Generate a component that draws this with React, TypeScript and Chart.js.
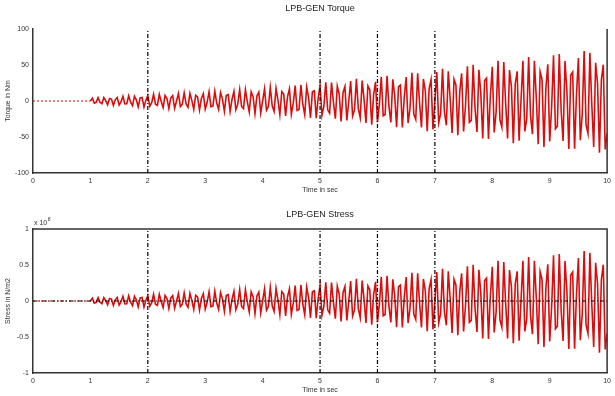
import React, { useEffect, useRef } from 'react';
import { Chart, registerables } from 'chart.js';

Chart.register(...registerables);

// ---- data ----
const xTickValues = [0, 1, 2, 3, 4, 5, 6, 7, 8, 9, 10];
const eventTimes = [2, 5, 6, 7];
const preOnsetTimes = [0, 1];
const preOnsetValues = [0, 0];
const onsetTime = 1;
const sampleRate = 30; // samples per second after onset

// Torque trace (Nm), sampled from t = 1 s to 10 s
const torqueValues = [0,
  3.9, -3.0, -1.8, 4.7, -1.7, -3.7, 4.6, 0.4, -5.2, 3.6, 2.7, -6.0, 1.7, 5.0, -5.6, -0.9, 6.6, -4.1, -3.8, 7.2, -1.6, -6.4, 6.5, 1.7, -8.0, 4.4, 5.0, -8.4, 1.2, 7.8,
  -7.2, -2.6, 9.4, -4.5, -6.2, 9.3, -0.7, -9.1, 7.6, 3.5, -10.5, 4.3, 7.5, -10.1, 0, 10.3, -7.8, -4.6, 11.5, -4.0, -8.8, 10.7, 0.8, -11.6, 7.9, 5.8, -12.5, 3.5, 10.1, -11.3,
  -1.8, 12.9, -7.9, -7.2, 13.6, -2.9, -11.7, 11.9, 3.0, -14.4, 7.9, 8.8, -14.7, 2.1, 13.4, -12.3, -4.4, 15.9, -7.6, -10.5, 15.7, -1.2, -15.1, 12.6, 5.9, -17.3, 7.1, 12.3, -16.5, 0,
  16.9, -12.8, -7.6, 18.9, -6.6, -14.4, 17.6, 1.4, -19.1, 13.1, 9.6, -20.7, 5.8, 16.8, -18.6, -3.0, 21.3, -13.1, -11.9, 22.3, -4.8, -19.2, 19.4, 4.9, -23.5, 12.8, 14.3, -23.8, 3.4, 21.7,
  -19.9, -7.1, 25.8, -12.3, -17.0, 25.5, -1.9, -24.6, 20.6, 9.6, -28.3, 11.6, 20.1, -27.1, 0, 27.6, -20.9, -12.4, 30.7, -10.6, -23.3, 28.4, 2.2, -30.6, 20.9, 15.4, -32.9, 9.2, 26.6, -29.4,
  -4.8, 33.6, -20.5, -18.7, 35.0, -7.4, -29.9, 30.2, 7.6, -36.4, 19.8, 22.1, -36.8, 5.3, 33.3, -30.6, -10.8, 39.2, -18.6, -25.7, 38.3, -2.8, -36.8, 30.6, 14.2, -41.8, 17.1, 29.5, -39.6, 0,
  40.2, -30.4, -18.0, 44.6, -15.4, -33.7, 41.2, 3.2, -44.3, 30.2, 22.2, -47.6, 13.3, 38.3, -42.4, -6.9, 48.3, -29.5, -26.8, 50.2, -10.7, -42.9, 43.3, 10.9, -52.2, 28.3, 31.6, -52.6, 7.6, 47.6,
  -43.6, -15.4, 55.7, -26.4, -36.5, 54.2, -4.0, -51.9, 43.1, 19.9, -58.6, 24.0, 41.2, -55.3, 0, 55.9, -42.2, -24.8, 61.2, -21.1, -46.1, 56.0, 4.4, -59.9, 40.7, 29.9, -63.7, 17.7, 51.0, -56.3,
  -9.1, 63.5, -38.7, -35.0, 65.3, -13.9, -55.5, 55.6, 14.0, -66.7, 36.0, 40.1, -66.4, 9.5, 59.8, -54.6, -19.2, 69.5, -32.9, -45.2, 67.1, -5.0, -63.9, 53.0, 24.5, -71.8, 29.4, 50.4, -67.4, -45,
];

// Stress trace has the same shape; expressed in units of 10^8 N/m2 (100 Nm <-> 1e8 N/m2)
const stressValues = torqueValues.map((v) => v / 100);

const sampleTimes = torqueValues.map((_, i) => onsetTime + i / sampleRate);

const torqueTicks = [-100, -50, 0, 50, 100];
const stressTicks = [-1, -0.5, 0, 0.5, 1];

const FONT = "'Liberation Sans', Arial, sans-serif";
const RED = '#dc0c0c';

type PanelProps = {
  title: string;
  yTitle: string;
  values: number[];
  yTicksList: number[];
  padTop: number;
  xAxisHeight: number;
  xTitlePad: number;
  titleY: number;
  topBorder: boolean;
  zeroLine: boolean;
  exponent?: string;
};

const framePlugin = {
  id: 'frame',
  afterDraw(chart: any, _args: any, opts: any) {
    const { ctx, chartArea: a } = chart;
    ctx.save();
    ctx.strokeStyle = '#333';
    ctx.lineWidth = 1.5;
    ctx.beginPath();
    ctx.moveTo(a.right, a.bottom);
    ctx.lineTo(a.right, a.top);
    if (opts.topBorder) ctx.lineTo(a.left, a.top);
    ctx.stroke();
    ctx.fillStyle = '#222';
    ctx.font = `9px ${FONT}`;
    ctx.textAlign = 'center';
    ctx.textBaseline = 'middle';
    ctx.fillText(opts.title, (a.left + a.right) / 2, opts.titleY);
    if (opts.exponent) {
      ctx.textAlign = 'left';
      ctx.textBaseline = 'alphabetic';
      ctx.fillStyle = '#333';
      ctx.font = `7px ${FONT}`;
      ctx.fillText('x 10', a.left + 1, a.top - 4);
      const w = ctx.measureText('x 10').width;
      ctx.font = `5px ${FONT}`;
      ctx.fillText(opts.exponent, a.left + 1 + w + 0.5, a.top - 8);
    }
    ctx.restore();
  },
};

function Panel(p: PanelProps) {
  const ref = useRef<HTMLCanvasElement | null>(null);
  useEffect(() => {
    if (!ref.current) return;
    const yMin = p.yTicksList[0];
    const yMax = p.yTicksList[p.yTicksList.length - 1];
    const datasets: any[] = [];
    eventTimes.forEach((t) => {
      datasets.push({
        data: [{ x: t, y: yMin }, { x: t, y: yMax }],
        borderColor: '#000',
        borderWidth: 1.2,
        borderDash: [4, 2, 1, 2],
        showLine: true,
        pointRadius: 0,
      });
    });
    if (p.zeroLine) {
      datasets.push({
        data: [{ x: xTickValues[0], y: 0 }, { x: xTickValues[xTickValues.length - 1], y: 0 }],
        borderColor: '#000',
        borderWidth: 1,
        borderDash: [4, 2, 1, 2],
        showLine: true,
        pointRadius: 0,
      });
    }
    datasets.push({
      data: preOnsetTimes.map((t, i) => ({ x: t, y: preOnsetValues[i] })),
      borderColor: RED,
      borderWidth: 1,
      borderDash: [2, 2],
      showLine: true,
      pointRadius: 0,
    });
    datasets.push({
      data: p.values.map((v, i) => ({ x: sampleTimes[i], y: v })),
      borderColor: RED,
      borderWidth: 1.6,
      showLine: true,
      pointRadius: 0,
    });

    const chart = new Chart(ref.current, {
      type: 'scatter',
      data: { datasets },
      plugins: [framePlugin as any],
      options: {
        animation: false,
        responsive: false,
        events: [],
        layout: { padding: { top: p.padTop, right: 2, left: 0, bottom: 0 } },
        plugins: {
          legend: { display: false },
          tooltip: { enabled: false },
          title: { display: false },
          frame: {
            title: p.title,
            titleY: p.titleY,
            topBorder: p.topBorder,
            exponent: p.exponent,
          },
        } as any,
        scales: {
          x: {
            type: 'linear',
            min: xTickValues[0],
            max: xTickValues[xTickValues.length - 1],
            afterBuildTicks: (s: any) => {
              s.ticks = xTickValues.map((v) => ({ value: v }));
            },
            afterFit: (s: any) => {
              s.height = p.xAxisHeight;
            },
            grid: { display: false, drawTicks: false },
            border: { display: true, color: '#333', width: 1.5 },
            ticks: {
              font: { family: FONT, size: 7 },
              color: '#333',
              padding: 4,
              maxRotation: 0,
              autoSkip: false,
              callback: (v: any) => String(v),
            },
            title: {
              display: true,
              text: 'Time in sec',
              font: { family: FONT, size: 7 },
              color: '#333',
              padding: { top: 0, bottom: p.xTitlePad },
            },
          },
          y: {
            type: 'linear',
            min: yMin,
            max: yMax,
            afterBuildTicks: (s: any) => {
              s.ticks = p.yTicksList.map((v) => ({ value: v }));
            },
            afterFit: (s: any) => {
              s.width = 33;
            },
            grid: { display: false, drawTicks: false },
            border: { display: true, color: '#333', width: 1.5 },
            ticks: {
              font: { family: FONT, size: 7 },
              color: '#333',
              padding: 4,
              autoSkip: false,
              callback: (v: any) => String(v),
            },
            title: {
              display: true,
              text: p.yTitle,
              font: { family: FONT, size: 7 },
              color: '#333',
              padding: { top: 4, bottom: 0 },
            },
          },
        },
      },
    } as any);
    return () => chart.destroy();
  }, []);
  return (
    <div style={{ width: 615, height: 198 }}>
      <canvas ref={ref} width={615} height={198} style={{ display: 'block' }} />
    </div>
  );
}

export default function App() {
  return (
    <div style={{ position: 'absolute', left: 0, top: 0, width: 615, height: 396, background: '#fff' }}>
      <Panel
        title="LPB-GEN Torque"
        yTitle="Torque in Nm"
        values={torqueValues}
        yTicksList={torqueTicks}
        padTop={29}
        xAxisHeight={25}
        xTitlePad={4}
        titleY={9}
        topBorder={false}
        zeroLine={false}
      />
      <Panel
        title="LPB-GEN Stress"
        yTitle="Stress in N/m2"
        values={stressValues}
        yTicksList={stressTicks}
        padTop={31}
        xAxisHeight={23}
        xTitlePad={2}
        titleY={17}
        topBorder={true}
        zeroLine={true}
        exponent="8"
      />
    </div>
  );
}
